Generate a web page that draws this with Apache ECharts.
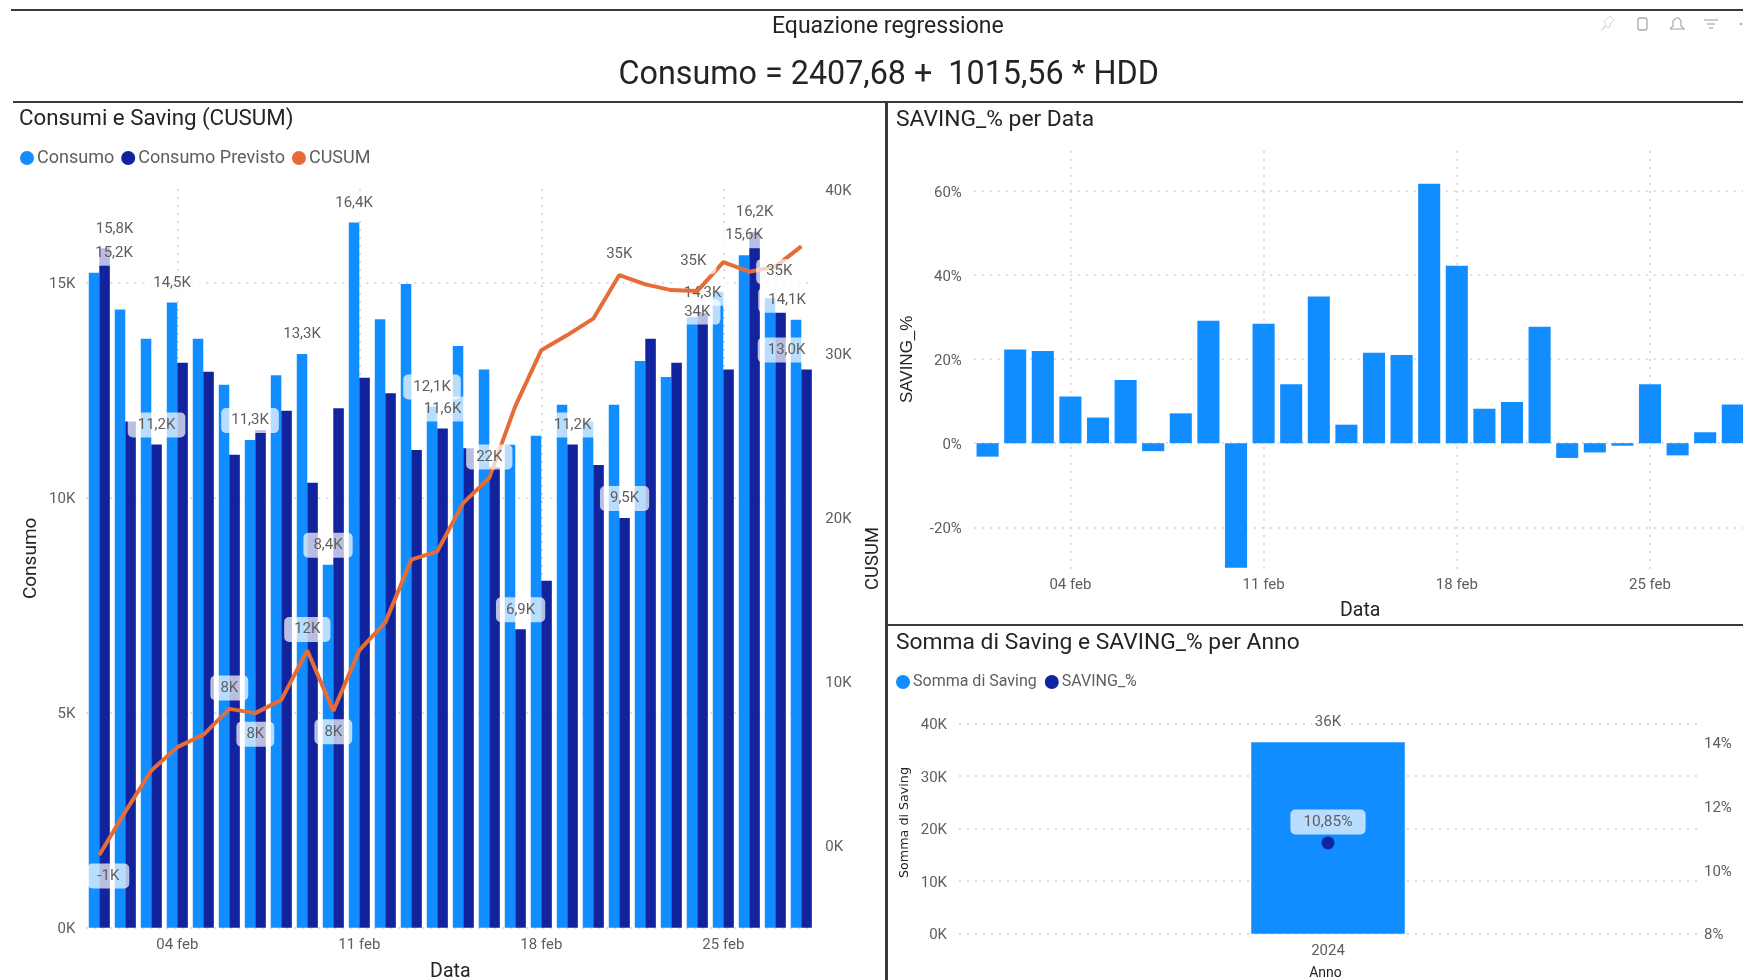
<!DOCTYPE html>
<html>
<head>
<meta charset="utf-8">
<title>Consumi e Saving</title>
<script src="https://cdn.jsdelivr.net/npm/echarts@6/dist/echarts.min.js"></script>
<style>
  html, body { margin: 0; padding: 0; background: #fff; }
  #main { width: 1743px; height: 980px; }
</style>
</head>
<body>
<div id="main"></div>
<script>
// dati
var days = ['01 feb','02 feb','03 feb','04 feb','05 feb','06 feb','07 feb','08 feb','09 feb','10 feb','11 feb','12 feb','13 feb','14 feb',
  '15 feb','16 feb','17 feb','18 feb','19 feb','20 feb','21 feb','22 feb','23 feb','24 feb','25 feb','26 feb','27 feb','28 feb'];
var dayTicks = ['04 feb', '11 feb', '18 feb', '25 feb'];
var consumo = [15230,14380,13700,14540,13700,12630,11340,12850,13340,8440,16400,14150,14970,12120,
  13530,12980,11230,11440,12160,11770,12160,13180,12810,14200,14790,15640,14640,14140];
var previsto = [15800,11770,11240,13140,12930,11000,11570,12020,10350,12080,12790,12430,11110,11610,
  11150,10700,6940,8070,11240,10760,9530,13700,13140,14300,12980,16180,14310,12980];
var cusum = [-570,2070,4570,6000,6750,8330,8070,8880,11890,8210,11890,13600,17420,17930,
  20880,22400,26770,30180,31100,32100,34760,34190,33840,33780,35550,34960,35270,36500];
var savingPct = [-3.2,22.3,21.9,11.1,6.1,15.0,-1.9,7.1,29.1,-29.6,28.4,14.0,34.9,4.4,
  21.5,21.0,61.7,42.2,8.2,9.8,27.7,-3.5,-2.2,-0.6,14.0,-2.9,2.6,9.2];
var anni = ['2024'];
var sommaSaving = [36400];
var savingAnno = [10.85];

var consumoTicks = [0, 5000, 10000, 15000];
var cusumTicks = [0, 10000, 20000, 30000, 40000];
var pctTicks = [-20, 0, 20, 40, 60];
var sommaTicks = [0, 10000, 20000, 30000, 40000];
var annoPctTicks = [8, 10, 12, 14];

// quali punti hanno l'etichetta (e dove Power BI le ha spostate)
var consumoLabels = { 0: { offset: [20, 0] }, 3: {}, 6: {}, 8: {}, 9: {}, 10: {}, 13: {}, 25: {}, 27: { offset: [-9, 0] } };
var previstoLabels = { 0: { offset: [10, 0] }, 2: {}, 13: {}, 16: {}, 18: {}, 20: {}, 23: {}, 25: {}, 27: { offset: [-20, 0] } };
var cusumLabels = {
  0: { position: 'bottom', offset: [9, 0] }, 5: { position: 'top' }, 6: { position: 'bottom' }, 8: { position: 'top' },
  9: { position: 'bottom' }, 15: { position: 'top' }, 20: { position: 'top' }, 23: { position: 'bottom' },
  25: { position: 'top', offset: [-56, 11] }, 26: { position: 'inside', offset: [4, 5] }
};

var FONT = 'Roboto';
var blue = '#118DFF', navy = '#12239E', orange = '#E66C37';
var dark = '#252423', grey = '#605E5C', gridColor = '#cfcfcf';

function fmtK1(v) { return (v / 1000).toFixed(1).replace('.', ',') + 'K'; }
function fmtK0(v) { return (v / 1000).toFixed(0) + 'K'; }

var boxLabel = {
  show: true, color: grey, fontFamily: FONT, fontSize: 15,
  backgroundColor: 'rgba(255,255,255,0.7)', borderRadius: 5, padding: [5, 10], lineHeight: 15
};

function withLabels(values, labels, fmt, distance) {
  return values.map(function (v, i) {
    if (!labels[i]) return v;
    return { value: v, label: Object.assign({}, boxLabel, { position: 'top', distance: distance, formatter: fmt(v) }, labels[i]) };
  });
}

function tickLabel() {
  return { color: grey, fontFamily: FONT, fontSize: 15 };
}
// le etichette dell'asse y stanno 2px sotto la griglia
function yLabel() {
  return Object.assign(tickLabel(), { verticalAlign: 'top', lineHeight: 4 });
}
function showDay(i, name) { return dayTicks.indexOf(name) >= 0; }
function dotted() {
  return { show: true, lineStyle: { color: gridColor, type: [2, 6], width: 1.5 } };
}

var chart = echarts.init(document.getElementById('main'), null, { renderer: 'canvas' });

chart.setOption({
  animation: false,
  title: [
    { text: 'Equazione regressione', left: 767, top: 11, textStyle: { fontFamily: FONT, fontSize: 23, fontWeight: 'normal', color: dark } },
    { text: 'Consumo = 2407,68 +  1015,56 * HDD', left: 613.5, top: 55, textStyle: { fontFamily: FONT, fontSize: 32.3, fontWeight: 'normal', color: dark } },
    { text: 'Consumi e Saving (CUSUM)', left: 14, top: 103, textStyle: { fontFamily: FONT, fontSize: 22.3, fontWeight: 'normal', color: dark } },
    { text: 'SAVING_% per Data', left: 891, top: 104, textStyle: { fontFamily: FONT, fontSize: 22.8, fontWeight: 'normal', color: dark } },
    { text: 'Somma di Saving e SAVING_% per Anno', left: 891, top: 627, textStyle: { fontFamily: FONT, fontSize: 22.8, fontWeight: 'normal', color: dark } }
  ],
  legend: [
    {
      data: ['Consumo', 'Consumo Previsto', 'CUSUM'], left: 15, top: 144, icon: 'circle', itemWidth: 14, itemHeight: 14, itemGap: 7,
      textStyle: { color: grey, fontFamily: FONT, fontSize: 18, padding: [0, 0, 0, -2] }
    },
    {
      data: ['Somma di Saving', 'SAVING_%'], left: 891, top: 669, icon: 'circle', itemWidth: 14, itemHeight: 14, itemGap: 8,
      textStyle: { color: grey, fontFamily: FONT, fontSize: 16, padding: [0, 0, 0, -2] }
    }
  ],
  grid: [
    { left: 86.3, top: 189, width: 728, height: 738.7, outerBoundsMode: 'none' },
    { left: 973.8, top: 150.7, width: 772.8, height: 422.3, outerBoundsMode: 'none' },
    { left: 959, top: 723.3, width: 738, height: 210.4, outerBoundsMode: 'none' }
  ],
  xAxis: [
    {
      type: 'category', gridIndex: 0, data: days, name: 'Data', nameLocation: 'middle', nameGap: 34,
      nameTextStyle: { color: dark, fontFamily: FONT, fontSize: 19.5 },
      axisLine: { show: false }, axisTick: { show: false },
      axisLabel: Object.assign(tickLabel(), { interval: showDay, margin: 10 }),
      splitLine: Object.assign(dotted(), { interval: showDay, alignWithLabel: true })
    },
    {
      type: 'category', gridIndex: 1, data: days, name: 'Data', nameLocation: 'middle', nameGap: 28,
      nameTextStyle: { color: dark, fontFamily: FONT, fontSize: 19.5 },
      axisLine: { show: false, onZero: false }, axisTick: { show: false },
      axisLabel: Object.assign(tickLabel(), { interval: showDay, margin: 5 }),
      splitLine: Object.assign(dotted(), { interval: showDay, alignWithLabel: true })
    },
    {
      type: 'category', gridIndex: 2, data: anni, name: 'Anno', nameLocation: 'middle', nameGap: 33,
      nameTextStyle: { color: dark, fontFamily: FONT, fontSize: 14, padding: [0, 5, 0, 0] },
      axisLine: { show: false }, axisTick: { show: false },
      axisLabel: Object.assign(tickLabel(), { margin: 10 })
    }
  ],
  yAxis: [
    {
      type: 'value', gridIndex: 0, min: 0, max: 17180, name: 'Consumo', nameLocation: 'middle', nameGap: 46,
      nameTextStyle: { color: dark, fontFamily: FONT, fontSize: 19 },
      axisLine: { show: false }, axisTick: { show: false, customValues: consumoTicks },
      axisLabel: Object.assign(yLabel(), { customValues: consumoTicks, formatter: fmtK0, margin: 11 }),
      splitLine: dotted()
    },
    {
      type: 'value', gridIndex: 0, position: 'right', min: -5000, max: 40000, name: 'CUSUM', nameLocation: 'middle', nameGap: 50, nameRotate: 90,
      nameTextStyle: { color: dark, fontFamily: FONT, fontSize: 18.5 },
      axisLine: { show: false }, axisTick: { show: false, customValues: cusumTicks },
      axisLabel: Object.assign(yLabel(), { customValues: cusumTicks, formatter: fmtK0, margin: 11 }),
      splitLine: { show: false }
    },
    {
      type: 'value', gridIndex: 1, min: -30.87, max: 69.56, name: 'SAVING_%', nameLocation: 'middle', nameGap: 58,
      nameTextStyle: { color: dark, fontFamily: 'Liberation Sans', fontSize: 17, padding: [0, 0, 0, 5] },
      axisLine: { show: false }, axisTick: { show: false, customValues: pctTicks },
      axisLabel: Object.assign(yLabel(), { customValues: pctTicks, formatter: '{value}%', margin: 12 }),
      splitLine: dotted()
    },
    {
      type: 'value', gridIndex: 2, min: 0, max: 40000, name: 'Somma di Saving', nameLocation: 'middle', nameGap: 48,
      nameTextStyle: { color: dark, fontFamily: 'DejaVu Sans', fontSize: 12.7, padding: [0, 0, 0, 12] },
      axisLine: { show: false }, axisTick: { show: false, customValues: sommaTicks },
      axisLabel: Object.assign(yLabel(), { customValues: sommaTicks, formatter: fmtK0, margin: 12 }),
      splitLine: dotted()
    },
    {
      type: 'value', gridIndex: 2, position: 'right', min: 8, max: 14.606,
      axisLine: { show: false }, axisTick: { show: false, customValues: annoPctTicks },
      axisLabel: Object.assign(yLabel(), { customValues: annoPctTicks, formatter: '{value}%', margin: 7 }),
      splitLine: { show: false }
    }
  ],
  series: [
    {
      name: 'Consumo', type: 'bar', xAxisIndex: 0, yAxisIndex: 0, barGap: 0, barCategoryGap: '19%',
      itemStyle: { color: blue }, data: withLabels(consumo, consumoLabels, fmtK1, 7)
    },
    {
      name: 'Consumo Previsto', type: 'bar', xAxisIndex: 0, yAxisIndex: 0,
      itemStyle: { color: navy }, data: withLabels(previsto, previstoLabels, fmtK1, 7)
    },
    {
      name: 'CUSUM', type: 'line', xAxisIndex: 0, yAxisIndex: 1, symbol: 'circle', symbolSize: 1,
      lineStyle: { color: orange, width: 4 }, itemStyle: { color: orange },
      data: withLabels(cusum, cusumLabels, fmtK0, 8)
    },
    {
      name: 'SAVING_% per Data', type: 'bar', xAxisIndex: 1, yAxisIndex: 2, barCategoryGap: '20%',
      itemStyle: { color: blue }, data: savingPct
    },
    {
      name: 'Somma di Saving', type: 'bar', xAxisIndex: 2, yAxisIndex: 3, barWidth: 153.5,
      itemStyle: { color: blue },
      label: { show: true, position: 'top', distance: 12, color: grey, fontFamily: FONT, fontSize: 15, formatter: function (p) { return fmtK0(p.value); },
        backgroundColor: '#fff', padding: [0, 3] },
      data: sommaSaving
    },
    {
      name: 'SAVING_%', type: 'line', xAxisIndex: 2, yAxisIndex: 4, symbol: 'circle', symbolSize: 13,
      itemStyle: { color: navy }, lineStyle: { width: 0 },
      label: Object.assign({}, boxLabel, { position: 'top', distance: 2, padding: [5, 13], fontSize: 15.5, formatter: function (p) { return p.value.toFixed(2).replace('.', ',') + '%'; } }),
      data: savingAnno
    }
  ],
  graphic: [
    // cornici dei pannelli
    { type: 'rect', silent: true, shape: { x: 11, y: 9, width: 1732, height: 2 }, style: { fill: '#3a3a3a' } },
    { type: 'rect', silent: true, shape: { x: 13, y: 101, width: 1730, height: 2 }, style: { fill: '#3a3a3a' } },
    { type: 'rect', silent: true, shape: { x: 885, y: 101, width: 3, height: 879 }, style: { fill: '#3a3a3a' } },
    { type: 'rect', silent: true, shape: { x: 888, y: 624, width: 855, height: 2 }, style: { fill: '#3a3a3a' } },
    // icone in alto a destra
    { type: 'polyline', silent: true, shape: { points: [[1601, 31], [1606, 24], [1604, 21], [1610, 16], [1614, 20], [1611, 23], [1609, 28], [1606, 26], [1601, 31]] }, style: { stroke: '#d6d6d6', fill: 'none', lineWidth: 1 } },
    { type: 'rect', silent: true, shape: { x: 1638, y: 18, width: 9, height: 12, r: 2 }, style: { stroke: '#a8a8a8', fill: '#fff', lineWidth: 1.3 } },
    { type: 'polyline', silent: true, shape: { points: [[1670, 29], [1673, 26], [1673, 21], [1676, 18], [1679, 18], [1681, 21], [1681, 26], [1684, 29], [1670, 29]] }, style: { stroke: '#a8a8a8', fill: 'none', lineWidth: 1.2 } },
    { type: 'line', silent: true, shape: { x1: 1704, y1: 20, x2: 1718, y2: 20 }, style: { stroke: '#a8a8a8', lineWidth: 1.2 } },
    { type: 'line', silent: true, shape: { x1: 1707, y1: 24, x2: 1715, y2: 24 }, style: { stroke: '#a8a8a8', lineWidth: 1.2 } },
    { type: 'line', silent: true, shape: { x1: 1709, y1: 28, x2: 1713, y2: 28 }, style: { stroke: '#a8a8a8', lineWidth: 1.2 } },
    { type: 'circle', silent: true, shape: { cx: 1741, cy: 24, r: 1.2 }, style: { fill: '#a8a8a8' } }
  ]
});
</script>
</body>
</html>
